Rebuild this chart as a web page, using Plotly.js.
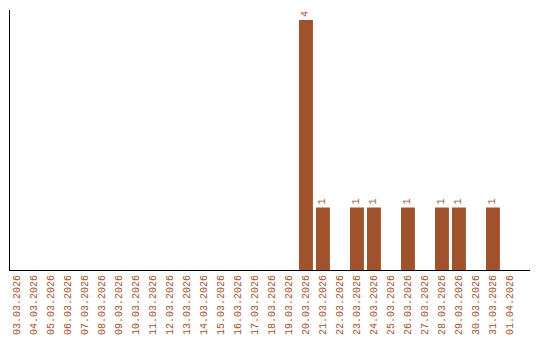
<!DOCTYPE html>
<html>
<head>
<meta charset="utf-8">
<script src="https://cdn.plot.ly/plotly-3.0.1.min.js"></script>
<style>html,body{margin:0;padding:0;background:#fff;}#chart{width:540px;height:340px;}</style>
</head>
<body>
<div id="chart"></div>
<script>
const dates = ["03.03.2026","04.03.2026","05.03.2026","06.03.2026","07.03.2026","08.03.2026","09.03.2026","10.03.2026","11.03.2026","12.03.2026","13.03.2026","14.03.2026","15.03.2026","16.03.2026","17.03.2026","18.03.2026","19.03.2026","20.03.2026","21.03.2026","22.03.2026","23.03.2026","24.03.2026","25.03.2026","26.03.2026","27.03.2026","28.03.2026","29.03.2026","30.03.2026","31.03.2026","01.04.2026"];
const counts = [0,0,0,0,0,0,0,0,0,0,0,0,0,0,0,0,0,4,1,0,1,1,0,1,0,1,1,0,1,0];
const labels = counts.map(v => v > 0 ? String(v) : "");
const color = "#A0522D";
const font = "Liberation Mono, Courier New, monospace";

Plotly.newPlot("chart", [{
  type: "bar",
  x: dates,
  y: counts,
  text: labels,
  textposition: "outside",
  textangle: -90,
  cliponaxis: false,
  textfont: {family: font, size: 10, color: color},
  marker: {color: color},
  hoverinfo: "none"
}], {
  width: 540, height: 340,
  margin: {l: 10, r: 10, t: 10, b: 70},
  paper_bgcolor: "#fff", plot_bgcolor: "#fff",
  bargap: 0.18,
  showlegend: false,
  xaxis: {
    type: "category",
    range: [-0.41, 30.18],
    tickangle: -90,
    tickfont: {family: font, size: 10, color: color},
    showline: true, linecolor: "#000", linewidth: 1,
    showgrid: false, zeroline: false, ticks: ""
  },
  yaxis: {
    range: [0, 4.16],
    showticklabels: false,
    showline: true, linecolor: "#000", linewidth: 1,
    showgrid: false, zeroline: false, ticks: ""
  }
}, {displayModeBar: false, staticPlot: true});
</script>
</body>
</html>
